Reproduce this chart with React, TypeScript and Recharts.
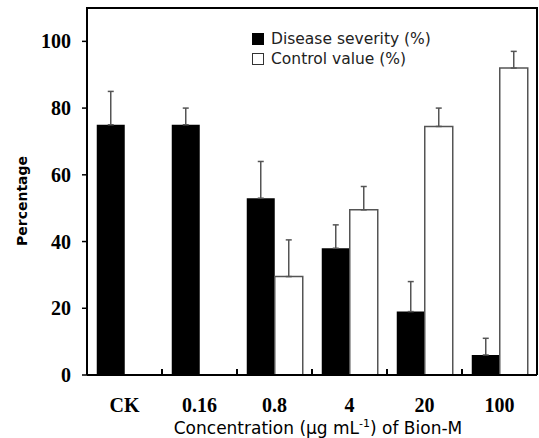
import React from 'react';
import { BarChart, Bar, XAxis, YAxis, ErrorBar } from 'recharts';

const categories = ['CK', '0.16', '0.8', '4', '20', '100'];
const severity = [75, 75, 53, 38, 19, 6];
const severityErr = [10, 5, 11, 7, 9, 5];
const control = [null, null, 29.5, 49.5, 74.5, 92];
const controlErr = [null, null, 11, 7, 5.5, 5];
const yTicks = [0, 20, 40, 60, 80, 100];

const data = categories.map((cat, i) => ({
  cat,
  severity: severity[i],
  severityErr: [0, severityErr[i]],
  control: control[i],
  controlErr: controlErr[i] == null ? null : [0, controlErr[i]],
}));

const serif = '"Liberation Serif", "Times New Roman", serif';
const sans = '"DejaVu Sans", "Noto Sans", sans-serif';

const CatTick = (props: any) => {
  const { x, y, payload, index } = props;
  const half = payload.offset || 37.5;
  return (
    <g>
      <text
        x={x}
        y={y + 30}
        textAnchor="middle"
        dominantBaseline="central"
        fontFamily={serif}
        fontWeight="bold"
        fontSize={20}
        fill="#000"
      >
        {payload.value}
      </text>
      {index < categories.length - 1 && (
        <line x1={x + half} x2={x + half} y1={y} y2={y - 6} stroke="#000" strokeWidth={2} />
      )}
    </g>
  );
};

const XTitle = (props: any) => {
  const vb = props.viewBox;
  return (
    <text
      x={vb.x + vb.width / 2 + 6}
      y={434}
      textAnchor="middle"
      fontFamily={sans}
      fontSize={17}
      fill="#000"
    >
      Concentration (μg mL
      <tspan fontSize={11} dy={-7}>-1</tspan>
      <tspan dy={7}>) of Bion-M</tspan>
    </text>
  );
};

const YTitle = () => (
  <text
    x={22}
    y={201}
    transform="rotate(-90, 22, 201)"
    textAnchor="middle"
    dominantBaseline="central"
    fontFamily={sans}
    fontWeight="bold"
    fontSize={14}
    fill="#000"
  >
    Percentage
  </text>
);

const LegendBox = () => (
  <div
    style={{
      position: 'absolute',
      left: 252,
      top: 29,
      fontFamily: sans,
      fontSize: 15.5,
      color: '#222',
      lineHeight: '20px',
      pointerEvents: 'none',
    }}
  >
    <div style={{ display: 'flex', alignItems: 'center' }}>
      <span style={{ width: 12, height: 12, background: '#000', display: 'inline-block', marginRight: 7 }} />
      Disease severity (%)
    </div>
    <div style={{ display: 'flex', alignItems: 'center' }}>
      <span
        style={{
          width: 10,
          height: 10,
          background: '#fff',
          border: '1px solid #333',
          display: 'inline-block',
          marginRight: 7,
        }}
      />
      Control value (%)
    </div>
  </div>
);

export default function App() {
  return (
    <div style={{ position: 'absolute', left: 0, top: 0, width: 539, height: 438, background: '#fff' }}>
      <BarChart
        width={539}
        height={438}
        data={data}
        margin={{ top: 8, right: 2, left: 0, bottom: 0 }}
        barCategoryGap="13%"
        barGap={0}
      >
        <XAxis
          dataKey="cat"
          height={63}
          tickLine={false}
          tickSize={0}
          tickMargin={0}
          tick={<CatTick />}
          axisLine={{ stroke: '#000', strokeWidth: 2 }}
          interval={0}
          label={XTitle}
        />
        <YAxis
          width={87}
          domain={[0, 110]}
          ticks={yTicks}
          tickSize={5}
          tickMargin={11}
          interval={0}
          tickLine={{ stroke: '#000', strokeWidth: 1.5 }}
          axisLine={{ stroke: '#000', strokeWidth: 2 }}
          tick={{ fontFamily: serif, fontWeight: 'bold', fontSize: 20, fill: '#000' }}
          label={YTitle}
        />
        <Bar dataKey="severity" fill="#000" isAnimationActive={false}>
          <ErrorBar dataKey="severityErr" direction="y" width={3} stroke="#555" strokeWidth={1.5} />
        </Bar>
        <Bar dataKey="control" fill="#fff" stroke="#555" strokeWidth={1.5} isAnimationActive={false}>
          <ErrorBar dataKey="controlErr" direction="y" width={3} stroke="#555" strokeWidth={1.5} />
        </Bar>
      </BarChart>
      {/* plot frame: top and right edges */}
      <div
        style={{
          position: 'absolute',
          left: 86,
          top: 7,
          width: 452,
          height: 368,
          boxSizing: 'border-box',
          borderTop: '2px solid #000',
          borderRight: '2px solid #000',
          pointerEvents: 'none',
        }}
      />
      <LegendBox />
    </div>
  );
}
